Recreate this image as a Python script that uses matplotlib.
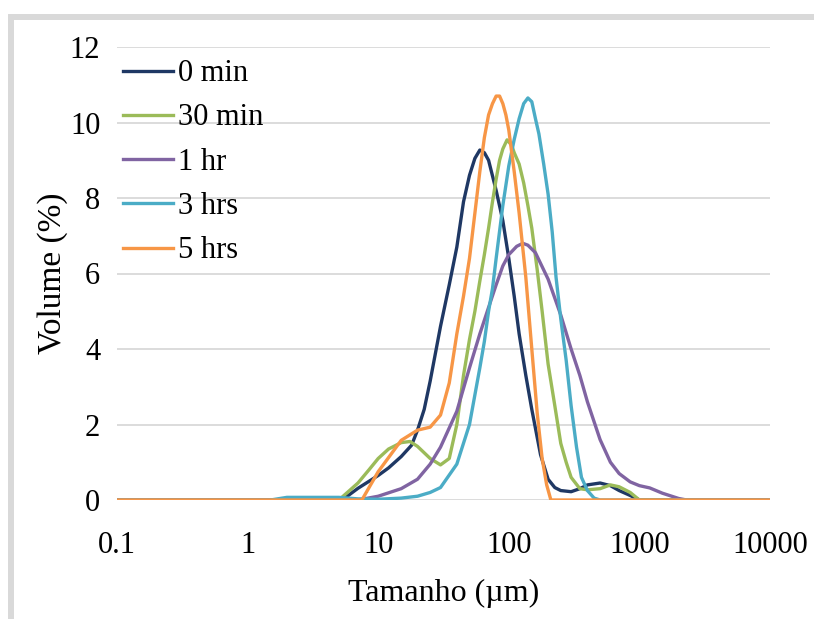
import matplotlib
matplotlib.use("Agg")
import matplotlib.pyplot as plt
from matplotlib.patches import Rectangle

# particle size (um) and volume (%)
size_0min = [0.1, 5.3, 7, 10, 12, 15, 18, 20, 22.5, 25, 30, 35, 40, 45, 50, 55, 60, 65,
             70, 80, 90, 100, 110, 120, 135, 150, 175, 200, 225, 250, 300, 350, 400, 500,
             600, 700, 850, 1000, 10000]
vol_0min = [0, 0, 0.31, 0.65, 0.85, 1.15, 1.45, 1.85, 2.4, 3.15, 4.6, 5.7, 6.7, 7.9, 8.6,
            9.05, 9.27, 9.2, 9.0, 8.2, 7.4, 6.4, 5.4, 4.4, 3.3, 2.4, 1.2, 0.55, 0.33, 0.25,
            0.22, 0.3, 0.4, 0.45, 0.38, 0.25, 0.12, 0, 0]

size_30min = [0.1, 5, 7, 8.5, 10, 12, 15, 17.5, 20, 25, 30, 35, 40, 45, 50, 55, 60, 65,
              70, 75, 80, 85, 90, 97, 105, 110, 120, 130, 140, 150, 165, 180, 200, 225,
              250, 275, 300, 350, 400, 500, 600, 700, 850, 1000, 10000]
vol_30min = [0, 0, 0.45, 0.8, 1.1, 1.35, 1.52, 1.55, 1.42, 1.1, 0.93, 1.1, 2.0, 3.3, 4.25,
             5.0, 5.8, 6.5, 7.2, 7.9, 8.5, 9.0, 9.3, 9.54, 9.4, 9.2, 8.9, 8.4, 7.8, 7.2,
             6.1, 5.0, 3.6, 2.5, 1.5, 1.0, 0.6, 0.3, 0.27, 0.3, 0.4, 0.35, 0.2, 0, 0]

size_1hr = [0.1, 7, 10, 15, 20, 25, 30, 40, 50, 60, 70, 80, 90, 100, 115, 128, 140, 160,
            200, 250, 300, 350, 400, 500, 600, 700, 850, 1000, 1200, 1500, 2000, 2300,
            10000]
vol_1hr = [0, 0, 0.1, 0.3, 0.55, 0.95, 1.4, 2.35, 3.5, 4.4, 5.1, 5.7, 6.2, 6.5, 6.72, 6.8,
           6.75, 6.55, 5.85, 4.9, 4.0, 3.3, 2.6, 1.6, 1.0, 0.7, 0.48, 0.38, 0.32, 0.18,
           0.04, 0, 0]

size_3hrs = [0.1, 1.5, 2, 5, 7, 10, 15, 20, 25, 30, 40, 50, 60, 65, 70, 75, 80, 90, 100,
             110, 120, 130, 140, 150, 160, 170, 185, 200, 215, 230, 250, 275, 300, 330,
             360, 400, 450, 500, 10000]
vol_3hrs = [0, 0, 0.07, 0.07, 0.03, 0.02, 0.05, 0.1, 0.2, 0.33, 0.95, 2.0, 3.5, 4.2, 5.0,
            5.6, 6.4, 7.8, 8.85, 9.55, 10.1, 10.5, 10.65, 10.55, 10.1, 9.7, 8.9, 8.1, 7.1,
            5.9, 4.8, 3.7, 2.5, 1.4, 0.6, 0.25, 0.05, 0, 0]

size_5hrs = [0.1, 7.5, 10, 15, 20, 25, 30, 35, 40, 45, 50, 55, 60, 65, 70, 75, 80, 85, 90,
             95, 100, 110, 120, 135, 150, 165, 180, 195, 210, 10000]
vol_5hrs = [0, 0, 0.75, 1.58, 1.85, 1.93, 2.25, 3.1, 4.4, 5.4, 6.4, 7.6, 8.7, 9.6, 10.2,
            10.5, 10.7, 10.7, 10.5, 10.2, 9.8, 8.7, 7.6, 5.9, 4.0, 2.3, 1.1, 0.4, 0, 0]

series = [
    ("0 min", size_0min, vol_0min, "#1F3864"),
    ("30 min", size_30min, vol_30min, "#9BBB59"),
    ("1 hr", size_1hr, vol_1hr, "#8064A2"),
    ("3 hrs", size_3hrs, vol_3hrs, "#4BACC6"),
    ("5 hrs", size_5hrs, vol_5hrs, "#F79646"),
]

x_ticks = [0.1, 1, 10, 100, 1000, 10000]
x_labels = ["0.1", "1", "10", "100", "1000", "10000"]
y_ticks = [0, 2, 4, 6, 8, 10, 12]

plt.rcParams["font.family"] = ["Liberation Serif", "DejaVu Serif"]

fig = plt.figure(figsize=(8.14, 6.19), dpi=100)
ax = fig.add_axes([117 / 814, 1 - 500 / 619, 653 / 814, 453 / 619])

# grey frame around the picture
fig.patches.append(Rectangle((11 / 814, -0.1), 1.2, 1.1 - 17 / 619,
                             transform=fig.transFigure, fill=False,
                             ec="#D9D9D9", lw=4.3))

for label, x, y, color in series:
    ax.plot(x, y, color=color, lw=2.4, label=label, solid_joinstyle="round")

ax.set_xscale("log")
ax.set_xlim(0.1, 10000)
ax.set_ylim(0, 12)
ax.set_xticks(x_ticks)
ax.set_xticklabels(x_labels)
ax.minorticks_off()
ax.set_yticks(y_ticks)
ax.yaxis.grid(True, color="#D9D9D9", lw=1.3)
ax.set_axisbelow(True)
for s in ax.spines.values():
    s.set_visible(False)
ax.tick_params(length=0, labelsize=22)
ax.tick_params(axis="x", pad=22)
ax.tick_params(axis="y", pad=12)

ax.set_xlabel("Tamanho (µm)", fontsize=23, labelpad=14)
ax.set_ylabel("Volume (%)", fontsize=24, labelpad=1)

ax.legend(loc="upper left", bbox_to_anchor=(-0.01, 1.0), fontsize=22, frameon=False,
          handlelength=1.65, handletextpad=0.15, labelspacing=0.5, borderaxespad=0.1,
          borderpad=0.3)

fig.savefig("out.png", dpi=100)
